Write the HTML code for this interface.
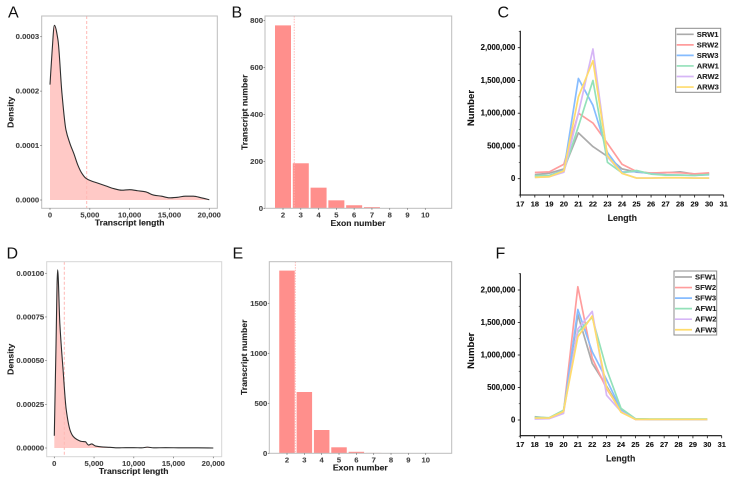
<!DOCTYPE html>
<html lang="en">
<head>
<meta charset="utf-8">
<title>Transcript length, exon number and small RNA length distributions</title>
<style>
html,body{margin:0;padding:0;background:#fff;}
body{width:734px;height:483px;overflow:hidden;}
svg{display:block;filter:blur(0.35px);}
text{font-family:"Liberation Sans",Arial,sans-serif;}
text[font-weight="bold"]{stroke:currentColor;stroke-width:0.12px;}
</style>
</head>
<body>
<svg id="figure" xmlns="http://www.w3.org/2000/svg" width="734" height="483" viewBox="0 0 734 483"></svg>
<script>
// Panel A: transcript length density
const aLength = [0,250,550,1000,1500,2000,2500,3000,3500,4000,4500,5000,6000,7000,8000,9000,10000,11000,12000,13000,14000,15000,16000,17000,18000,19000,20000];
const aDensity = [0.000212,0.00027,0.000321,0.000294,0.000196,0.000129,0.000104,0.000085,0.000064,0.000049,0.00004,0.000036,0.000031,0.000026,0.000021,0.000018,0.000019,0.000017,0.000015,0.000009,0.000007,0.000004,0.000005,0.000007,0.000007,0.000004,0.0000005];
const aMean = 4607;
const aYTicks = [0,0.0001,0.0002,0.0003];
const aYLabels = ['0.0000','0.0001','0.0002','0.0003'];

// Panel D: transcript length density
const dLength = [0,200,420,700,1100,1500,2000,2400,2800,3400,3900,4300,4700,5200,6000,7000,8000,9000,10000,11000,11700,12500,14000,16000,18000,20000];
const dDensity = [0.00007,0.00055,0.00102,0.00071,0.00045,0.00022,0.0001,0.000065,0.00005,0.000038,0.000036,0.000017,0.000023,0.000011,0.000006,0.000004,0.000001,0.000002,0.000002,0.000001,0.000005,0.000001,0.000002,0.000001,0.000001,0];
const dMean = 1258;
const dYTicks = [0,0.00025,0.0005,0.00075,0.001];
const dYLabels = ['0.00000','0.00025','0.00050','0.00075','0.00100'];

const densityXTicks = [0,5000,10000,15000,20000];
const densityXLabels = ['0','5,000','10,000','15,000','20,000'];

// Panels B and E: exon number bars
const exonCategories = [2,3,4,5,6,7,8,9,10];
const bCounts = [780,192,88,34,13,5,1,1,1];
const bMean = 2.63;
const bYTicks = [0,200,400,600,800];
const eCounts = [1827,613,233,60,15,4,1,1,1];
const eMean = 2.48;
const eYTicks = [0,500,1000,1500];

// Panels C and F: small RNA length distribution
const lengths = [18,19,20,21,22,23,24,25,26,27,28,29,30];
const lengthTicks = [17,18,19,20,21,22,23,24,25,26,27,28,29,30,31];
const numberTicks = [0,500000,1000000,1500000,2000000];
const numberLabels = ['0','500,000','1,000,000','1,500,000','2,000,000'];
const numberMinorTicks = [-250000,250000,750000,1250000,1750000,2250000];

const cNames = ['SRW1','SRW2','SRW3','ARW1','ARW2','ARW3'];
const srw1 = [60000,85000,150000,700000,490000,340000,150000,100000,85000,90000,105000,70000,80000];
const srw2 = [95000,105000,220000,1000000,850000,540000,220000,110000,85000,95000,90000,75000,90000];
const srw3 = [40000,50000,130000,1530000,1120000,400000,100000,110000,75000,60000,55000,50000,60000];
const arw1 = [45000,50000,120000,800000,1500000,250000,90000,125000,70000,55000,55000,50000,65000];
const arw2 = [20000,30000,100000,1000000,1980000,330000,85000,10000,10000,15000,15000,10000,10000];
const arw3 = [20000,30000,120000,1250000,1800000,350000,80000,10000,10000,15000,15000,10000,10000];

const fNames = ['SFW1','SFW2','SFW3','AFW1','AFW2','AFW3'];
const sfw1 = [50000,30000,120000,1620000,870000,520000,150000,15000,10000,10000,10000,10000,10000];
const sfw2 = [30000,25000,110000,2050000,950000,480000,140000,10000,10000,10000,10000,10000,10000];
const sfw3 = [20000,25000,110000,1700000,1050000,620000,160000,15000,10000,10000,10000,10000,10000];
const afw1 = [40000,35000,150000,1350000,1580000,780000,180000,20000,15000,15000,15000,15000,15000];
const afw2 = [15000,20000,100000,1400000,1670000,380000,130000,10000,10000,10000,10000,10000,10000];
const afw3 = [30000,30000,130000,1280000,1600000,500000,120000,10000,10000,10000,10000,10000,10000];

const seriesColors = ['#ababab','#ff9d9d','#86bcff','#93e1b9','#d6b6f6','#ffdc6c'];

const NS = 'http://www.w3.org/2000/svg';
const figure = document.getElementById('figure');

function linear(d0, d1, r0, r1) {
  return function (v) { return r0 + (v - d0) * (r1 - r0) / (d1 - d0); };
}

function make(tag, parent, attrs, content) {
  const node = document.createElementNS(NS, tag);
  for (const key in attrs) node.setAttribute(key, attrs[key]);
  if (content !== undefined) node.textContent = content;
  parent.appendChild(node);
  return node;
}

function label(node, name) {
  
  
  return node;
}

function group(parent, name) {
  return label(make('g', parent, {}), name);
}

function writeText(parent, name, str, x, y, size, anchor, fill, weight, rotate) {
  const attrs = {x: x, y: y, 'font-size': size, 'text-anchor': anchor, fill: fill, color: fill, 'font-weight': weight, 'dominant-baseline': 'central'};
  if (rotate) attrs.transform = 'rotate(-90 ' + x + ' ' + y + ')';
  return label(make('text', parent, attrs, str), name);
}

function smoothPath(xs, ys) {
  const n = xs.length;
  const slopes = [];
  for (let i = 0; i < n - 1; i++) slopes.push((ys[i + 1] - ys[i]) / (xs[i + 1] - xs[i]));
  const tangents = [slopes[0]];
  for (let i = 1; i < n - 1; i++) {
    tangents.push(slopes[i - 1] * slopes[i] <= 0 ? 0 : 2 * slopes[i - 1] * slopes[i] / (slopes[i - 1] + slopes[i]));
  }
  tangents.push(slopes[n - 2]);
  let d = 'M' + xs[0].toFixed(2) + ' ' + ys[0].toFixed(2);
  for (let i = 0; i < n - 1; i++) {
    const h = (xs[i + 1] - xs[i]) / 3;
    d += 'C' + (xs[i] + h).toFixed(2) + ' ' + (ys[i] + tangents[i] * h).toFixed(2) + ' ' +
      (xs[i + 1] - h).toFixed(2) + ' ' + (ys[i + 1] - tangents[i + 1] * h).toFixed(2) + ' ' +
      xs[i + 1].toFixed(2) + ' ' + ys[i + 1].toFixed(2);
  }
  return d;
}

function drawFrame(g, f, color) {
  const frame = make('rect', g, {x: f.left, y: f.top, width: f.right - f.left, height: f.bottom - f.top, fill: 'none', stroke: color, 'stroke-width': 1});
  label(frame, 'plot-frame');
}

function drawDensity(p) {
  const g = group(figure, p.name);
  const sx = linear(0, 20000, p.x0, p.x1);
  const sy = linear(0, p.yRef, p.y0, p.yRefPx);
  const xs = p.lengths.map(sx);
  const ys = p.density.map(sy);
  const line = smoothPath(xs, ys);
  const fill = make('path', g, {d: line + 'L' + xs[xs.length - 1].toFixed(2) + ' ' + p.y0 + 'L' + xs[0].toFixed(2) + ' ' + p.y0 + 'Z', fill: '#ffc9c6'});
  label(fill, 'density-area');
  const mean = make('line', g, {x1: sx(p.mean), x2: sx(p.mean), y1: p.frame.top, y2: p.frame.bottom, stroke: '#ffb8b5', 'stroke-width': 1, 'stroke-dasharray': '3 2'});
  label(mean, 'mean-length-line');
  const curve = make('path', g, {d: line, fill: 'none', stroke: '#2e2e2e', 'stroke-width': 1.1});
  label(curve, 'density-curve');
  drawFrame(g, p.frame, p.frameColor);
  densityXTicks.forEach(function (v, i) {
    const tick = make('line', g, {x1: sx(v), x2: sx(v), y1: p.frame.bottom, y2: p.frame.bottom + 1.5, stroke: '#666', 'stroke-width': 0.7});
    label(tick, 'x-tick');
    writeText(g, 'x-tick-label', densityXLabels[i], sx(v), p.xTickY, 7.6, 'middle', '#444', 'bold');
  });
  p.yTicks.forEach(function (v, i) {
    const tick = make('line', g, {x1: p.frame.left - 1.5, x2: p.frame.left, y1: sy(v), y2: sy(v), stroke: '#666', 'stroke-width': 0.7});
    label(tick, 'y-tick');
    writeText(g, 'y-tick-label', p.yLabels[i], p.frame.left - 2.5, sy(v), 7.7, 'end', '#444', 'bold');
  });
  writeText(g, 'x-axis-title', 'Transcript length', p.xTitle[0], p.xTitle[1], 8.6, 'middle', '#222', 'bold');
  writeText(g, 'y-axis-title', 'Density', p.yTitle[0], p.yTitle[1], 8.6, 'middle', '#222', 'bold', true);
}

function drawBars(p) {
  const g = group(figure, p.name);
  const sx = linear(2, 10, p.x2, p.x10);
  const sy = linear(0, p.yRef, p.frame.bottom, p.yRefPx);
  exonCategories.forEach(function (c, i) {
    const top = sy(p.counts[i]);
    const bar = make('rect', g, {x: sx(c) - p.barWidth / 2, y: top, width: p.barWidth, height: p.frame.bottom - top, fill: '#ff8f8c'});
    
    
  });
  const mean = make('line', g, {x1: sx(p.mean), x2: sx(p.mean), y1: p.frame.top, y2: p.frame.bottom, stroke: '#ffb0ad', 'stroke-width': 0.9, 'stroke-dasharray': '1.5 1.2'});
  label(mean, 'mean-exon-line');
  drawFrame(g, p.frame, '#bdbdbd');
  exonCategories.forEach(function (c) {
    const tick = make('line', g, {x1: sx(c), x2: sx(c), y1: p.frame.bottom, y2: p.frame.bottom + 1.5, stroke: '#666', 'stroke-width': 0.7});
    label(tick, 'x-tick');
    writeText(g, 'x-tick-label', String(c), sx(c), p.xTickY, 7.6, 'middle', '#444', 'bold');
  });
  p.yTicks.forEach(function (v) {
    const tick = make('line', g, {x1: p.frame.left - 1.5, x2: p.frame.left, y1: sy(v), y2: sy(v), stroke: '#666', 'stroke-width': 0.7});
    label(tick, 'y-tick');
    writeText(g, 'y-tick-label', String(v), p.frame.left - 2, sy(v), 7.7, 'end', '#444', 'bold');
  });
  writeText(g, 'x-axis-title', 'Exon number', p.xTitle[0], p.xTitle[1], 8.6, 'middle', '#222', 'bold');
  writeText(g, 'y-axis-title', 'Transcript number', p.yTitle[0], p.yTitle[1], 8.6, 'middle', '#222', 'bold', true);
}

function drawLines(p) {
  const g = group(figure, p.name);
  const sx = linear(17, 31, p.axisX, p.axisRight);
  const sy = linear(0, 2000000, p.y0, p.y2M);
  p.series.forEach(function (values, s) {
    const pts = values.map(function (v, i) { return sx(lengths[i]).toFixed(2) + ',' + sy(v).toFixed(2); }).join(' ');
    const line = make('polyline', g, {points: pts, fill: 'none', stroke: seriesColors[s], 'stroke-width': 1.7, 'stroke-linejoin': 'round'});
    
    
  });
  const yAxis = make('line', g, {x1: p.axisX, x2: p.axisX, y1: p.axisTop, y2: p.axisY + 0.5, stroke: '#111', 'stroke-width': 1.1});
  label(yAxis, 'y-axis-line');
  const xAxis = make('line', g, {x1: p.axisX - 0.5, x2: p.axisRight, y1: p.axisY, y2: p.axisY, stroke: '#111', 'stroke-width': 1.1});
  label(xAxis, 'x-axis-line');
  lengthTicks.forEach(function (v) {
    const tick = make('line', g, {x1: sx(v), x2: sx(v), y1: p.axisY, y2: p.axisY + 2.5, stroke: '#111', 'stroke-width': 0.8});
    label(tick, 'x-tick');
    writeText(g, 'x-tick-label', String(v), sx(v), p.xTickY, 7.4, 'middle', '#111', 'bold');
  });
  numberTicks.forEach(function (v, i) {
    const tick = make('line', g, {x1: p.axisX - 2.5, x2: p.axisX, y1: sy(v), y2: sy(v), stroke: '#111', 'stroke-width': 0.8});
    label(tick, 'y-tick');
    writeText(g, 'y-tick-label', numberLabels[i], p.axisX - 5, sy(v), 7.8, 'end', '#111', 'bold');
  });
  numberMinorTicks.forEach(function (v) {
    const tick = make('line', g, {x1: p.axisX - 1.5, x2: p.axisX, y1: sy(v), y2: sy(v), stroke: '#111', 'stroke-width': 0.6});
    label(tick, 'y-minor-tick');
  });
  writeText(g, 'x-axis-title', 'Length', p.xTitle[0], p.xTitle[1], 8.8, 'middle', '#222', 'bold');
  writeText(g, 'y-axis-title', 'Number', p.yTitle[0], p.yTitle[1], 9.6, 'middle', '#111', 'bold', true);

  const legend = group(g, 'legend');
  const box = make('rect', legend, {x: p.legend.left, y: p.legend.top, width: p.legend.width, height: p.legend.height, fill: '#fff', stroke: '#8c8c8c', 'stroke-width': 1});
  label(box, 'legend-box');
  p.names.forEach(function (n, i) {
    const y = p.legend.top + 6 + i * 10.55;
    const swatch = make('line', legend, {x1: p.legend.left + 1, x2: p.legend.left + 18, y1: y, y2: y, stroke: seriesColors[i], 'stroke-width': 1.7});
    
    
    const entry = writeText(legend, 'legend-entry', n, p.legend.left + 21, y, 7.6, 'start', '#222', 'bold');
    
  });
}

drawDensity({name: 'panel-a-density', lengths: aLength, density: aDensity, mean: aMean, yTicks: aYTicks, yLabels: aYLabels,
  frame: {left: 41.7, right: 217.3, top: 16, bottom: 208.3}, frameColor: '#bdbdbd',
  x0: 50, x1: 209.3, y0: 200, yRef: 0.0003, yRefPx: 36.7, xTickY: 215, xTitle: [129.7, 222.7], yTitle: [10.7, 112.3]});

drawDensity({name: 'panel-d-density', lengths: dLength, density: dDensity, mean: dMean, yTicks: dYTicks, yLabels: dYLabels,
  frame: {left: 46.7, right: 221.7, top: 261.7, bottom: 456.7}, frameColor: '#d6d6d6',
  x0: 54.3, x1: 213.3, y0: 448, yRef: 0.001, yRefPx: 273.3, xTickY: 463.3, xTitle: [133.7, 471], yTitle: [10.7, 359.3]});

drawBars({name: 'panel-b-exon-bars', counts: bCounts, mean: bMean, yTicks: bYTicks,
  frame: {left: 265, right: 451.7, top: 16, bottom: 208.3},
  x2: 283, x10: 425.3, barWidth: 16, yRef: 800, yRefPx: 20.7, xTickY: 215, xTitle: [358, 223], yTitle: [244.3, 112.3]});

drawBars({name: 'panel-e-exon-bars', counts: eCounts, mean: eMean, yTicks: eYTicks,
  frame: {left: 269.3, right: 451.7, top: 261.7, bottom: 453.3},
  x2: 287, x10: 425.7, barWidth: 15.5, yRef: 1500, yRefPx: 303.3, xTickY: 460, xTitle: [360.3, 467.7], yTitle: [244, 357.3]});

drawLines({name: 'panel-c-length-lines', names: cNames, series: [srw1, srw2, srw3, arw1, arw2, arw3],
  axisX: 520.3, axisRight: 723.7, axisTop: 30.7, axisY: 195, y0: 178.7, y2M: 47.7, xTickY: 204,
  xTitle: [622.3, 218], yTitle: [471.7, 108], legend: {left: 675.7, top: 28.3, width: 45, height: 64}});

drawLines({name: 'panel-f-length-lines', names: fNames, series: [sfw1, sfw2, sfw3, afw1, afw2, afw3],
  axisX: 520.3, axisRight: 721.7, axisTop: 273.3, axisY: 435.7, y0: 420, y2M: 290, xTickY: 444.3,
  xTitle: [620.7, 458.7], yTitle: [471.7, 350.7], legend: {left: 674, top: 271, width: 42.7, height: 64}});

const panelA = make('text', figure, {x: 8, y: 17.3, 'font-size': 16, fill: '#111'}, 'A');


const panelB = make('text', figure, {x: 231.5, y: 17.3, 'font-size': 16, fill: '#111'}, 'B');


const panelC = make('text', figure, {x: 497.5, y: 17.3, 'font-size': 16, fill: '#111'}, 'C');


const panelD = make('text', figure, {x: 6.5, y: 258.3, 'font-size': 16, fill: '#111'}, 'D');


const panelE = make('text', figure, {x: 232.5, y: 258.3, 'font-size': 16, fill: '#111'}, 'E');


const panelF = make('text', figure, {x: 495.5, y: 258.3, 'font-size': 16, fill: '#111'}, 'F');


</script>
</body>
</html>
